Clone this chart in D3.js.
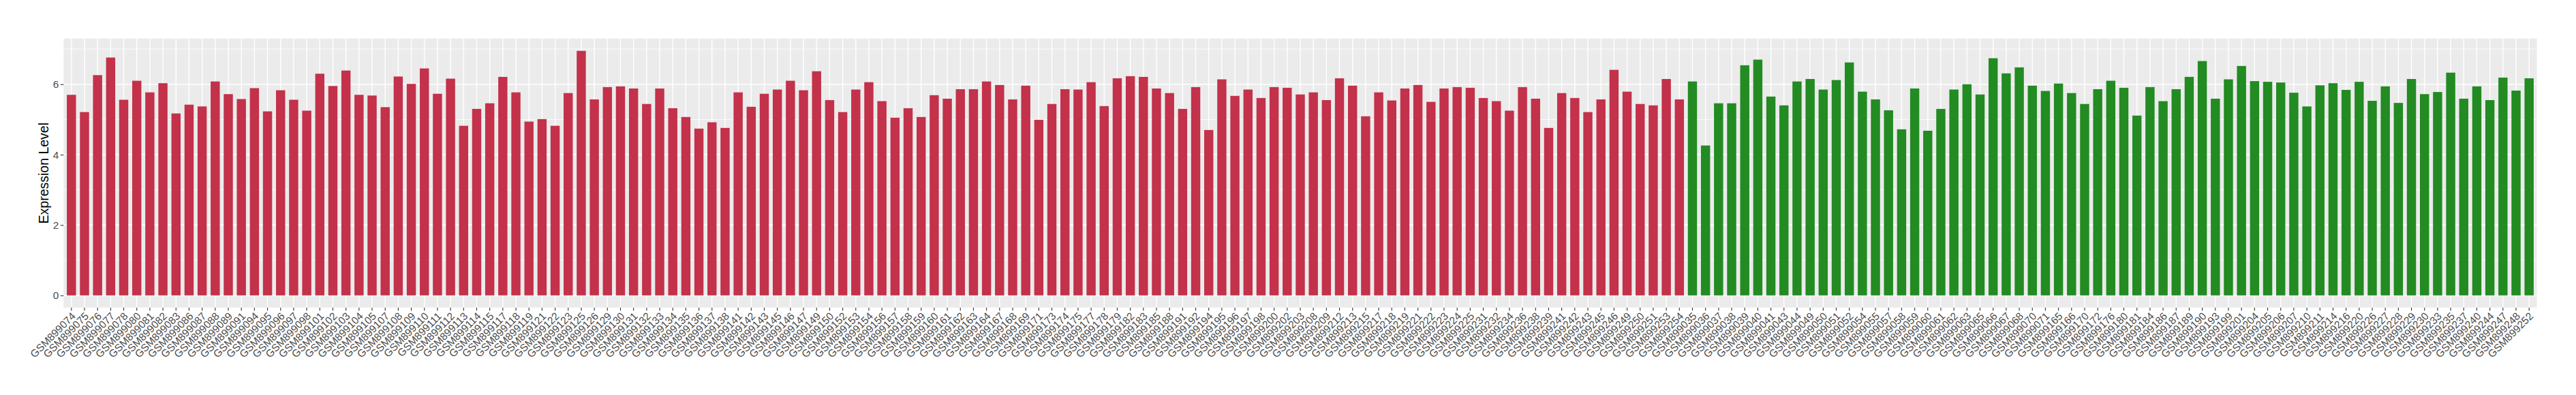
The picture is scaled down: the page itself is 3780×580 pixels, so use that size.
<!DOCTYPE html>
<html>
<head>
<meta charset="utf-8">
<script src="https://cdn.jsdelivr.net/npm/d3@7"></script>
<style>
  body { margin: 0; background: #fff; }
  svg { display: block; font-family: "Liberation Sans", Arial, sans-serif; }
</style>
</head>
<body>
<div class="bar-chart"></div>
<script>
// Data

const redSamples = [
  '074', '075', '076', '077', '078', '080', '081', '082', '083', '086', '087', '088', '089', '091', '094', '095',
  '096', '097', '098', '101', '102', '103', '104', '105', '107', '108', '109', '110', '111', '112',
  '113', '114', '115', '117', '118', '119', '121', '122', '123', '125', '126', '129', '130', '131', '132', '133', '134', '135', '136', '137',
  '138', '141', '142', '143', '145', '146', '147', '149', '150', '152', '153', '154', '156', '157', '158', '159', '160', '161', '162',
  '163', '164', '167', '168', '169', '171', '173', '174', '175', '177', '178', '179', '182', '183', '185', '188', '191', '192', '194', '195',
  '196', '197', '198', '200', '202', '203', '208', '209', '212', '213', '215', '217', '218', '219', '221', '222', '223', '224', '225', '231',
  '232', '234', '236', '238', '239', '241', '242', '243', '245', '246', '249', '250', '251', '253', '254'
].map((s) => 'GSM899' + s)

const redValues = [
  5.70, 5.21, 6.26, 6.76, 5.56, 6.10, 5.77, 6.03, 5.17, 5.42, 5.37, 6.08, 5.72, 5.58, 5.89, 5.23,
  5.83, 5.56, 5.25, 6.30, 5.95, 6.39, 5.70, 5.68, 5.35, 6.22, 6.01, 6.45, 5.73, 6.16,
  4.82, 5.30, 5.46, 6.21, 5.77, 4.94, 5.01, 4.82, 5.75, 6.95, 5.57, 5.92, 5.94, 5.88, 5.44, 5.88, 5.32, 5.07, 4.74, 4.92,
  4.76, 5.77, 5.36, 5.73, 5.85, 6.10, 5.83, 6.37, 5.55, 5.21, 5.85, 6.06, 5.52, 5.05, 5.32, 5.07, 5.69, 5.59, 5.86,
  5.86, 6.08, 5.98, 5.57, 5.96, 4.99, 5.44, 5.86, 5.85, 6.06, 5.38, 6.17, 6.23, 6.21, 5.88, 5.75, 5.30, 5.92, 4.70, 6.14,
  5.67, 5.85, 5.61, 5.92, 5.90, 5.71, 5.77, 5.55, 6.17, 5.96, 5.09, 5.77, 5.54, 5.88, 5.98, 5.50, 5.88, 5.92, 5.90, 5.61,
  5.52, 5.25, 5.92, 5.59, 4.76, 5.75, 5.61, 5.21, 5.57, 6.41, 5.79, 5.44, 5.40, 6.15, 5.57
]

const greenSamples = [
  '035', '036', '037', '038', '039', '040', '041', '043', '044', '049', '050', '051', '052', '054', '055', '057',
  '058', '059', '060', '061', '062', '063', '065', '066', '067', '068', '070', '071',
  '165', '166', '170', '172', '176', '180', '181', '184', '186', '187', '189', '190', '193', '199', '201', '204',
  '205', '206', '207', '210', '211', '214', '216', '220', '226', '227', '228', '229', '230', '233', '235', '237',
  '240', '244', '247', '248', '252'
].map((s) => 'GSM899' + s)

const greenValues = [
  6.08, 4.26, 5.46, 5.46, 6.54,
  6.70, 5.65, 5.40, 6.08, 6.15, 5.85, 6.12, 6.62, 5.79, 5.57, 5.26, 4.72, 5.88, 4.68, 5.30, 5.85, 6.00, 5.71, 6.74,
  6.31, 6.48, 5.96, 5.81, 6.02, 5.75, 5.44, 5.86, 6.10, 5.90, 5.11, 5.92, 5.52, 5.86, 6.21, 6.66, 5.59, 6.14, 6.52,
  6.09, 6.07, 6.05, 5.76, 5.37, 5.97, 6.03, 5.84, 6.07, 5.53, 5.94, 5.47, 6.15, 5.72, 5.78, 6.33, 5.59, 5.94, 5.55, 6.19, 5.82, 6.17
]

const yTicks = [0, 2, 4, 6]
const yMinorTicks = [1, 3, 5, 7]
const yTitle = 'Expression Level'

const redColor = '#C3314A'
const greenColor = '#228B22'

// Bar chart

const drawBarChart = () => {
  const data = [
    ...redSamples.map((name, i) => ({name, value: redValues[i], color: redColor})),
    ...greenSamples.map((name, i) => ({name, value: greenValues[i], color: greenColor}))
  ]

  const totalWidth = 3780
  const totalHeight = 580
  const panel = {left: 93.3, right: 3722.7, top: 56.7, bottom: 451.7}

  // ggplot style expansion: 5% of the data range on the y axis
  const maxValue = d3.max(data, (d) => d.value)
  const pad = maxValue * 0.05

  const x = d3.scaleBand()
    .domain(data.map((d) => d.name))
    .range([panel.left, panel.right])
    .paddingInner(0.3)
    .paddingOuter(0.25)

  const y = d3.scaleLinear()
    .domain([-pad, maxValue + pad])
    .range([panel.bottom, panel.top])

  const svg = d3.select('.bar-chart')
    .append('svg')
      .attr('width', totalWidth)
      .attr('height', totalHeight)

  svg.append('rect')
    .attr('width', totalWidth)
    .attr('height', totalHeight)
    .attr('fill', '#fff')

  svg.append('rect')
    .attr('x', panel.left)
    .attr('y', panel.top)
    .attr('width', panel.right - panel.left)
    .attr('height', panel.bottom - panel.top)
    .attr('fill', '#EBEBEB')

  const grid = svg.append('g')

  grid.selectAll('.minor')
      .data(yMinorTicks)
    .enter().append('line')
      .attr('x1', panel.left)
      .attr('x2', panel.right)
      .attr('y1', (d) => y(d))
      .attr('y2', (d) => y(d))
      .style('stroke', '#fff')
      .style('stroke-width', 0.8)

  grid.selectAll('.major')
      .data(yTicks)
    .enter().append('line')
      .attr('x1', panel.left)
      .attr('x2', panel.right)
      .attr('y1', (d) => y(d))
      .attr('y2', (d) => y(d))
      .style('stroke', '#fff')
      .style('stroke-width', 1.6)

  grid.selectAll('.vmajor')
      .data(data)
    .enter().append('line')
      .attr('x1', (d) => x(d.name) + x.bandwidth() / 2)
      .attr('x2', (d) => x(d.name) + x.bandwidth() / 2)
      .attr('y1', panel.top)
      .attr('y2', panel.bottom)
      .style('stroke', '#fff')
      .style('stroke-width', 1.4)

  svg.append('g').selectAll('rect')
      .data(data)
    .enter().append('rect')
      .attr('x', (d) => x(d.name))
      .attr('width', x.bandwidth())
      .attr('y', (d) => y(d.value))
      .attr('height', (d) => y(0) - y(d.value))
      .style('fill', (d) => d.color)

  const xAxis = d3.axisBottom(x)
    .tickSizeOuter(0)
    .tickSizeInner(4.5)
    .tickPadding(0)

  const xg = svg.append('g')
      .attr('transform', `translate(0,${panel.bottom})`)
      .call(xAxis)

  xg.select('.domain').remove()
  xg.selectAll('.tick line')
    .style('stroke', '#333')
    .style('stroke-width', 1.1)
  xg.selectAll('text')
      .attr('x', 0)
      .attr('y', 0)
      .attr('dy', 0)
      .style('text-anchor', 'end')
      .style('font-size', '15.4px')
      .style('fill', '#4D4D4D')
      .attr('transform', 'translate(7,13.5) rotate(-45)')

  const yAxis = d3.axisLeft(y)
    .tickValues(yTicks)
    .tickFormat(d3.format('d'))
    .tickSizeOuter(0)
    .tickSizeInner(4.5)
    .tickPadding(2.5)

  const yg = svg.append('g')
      .attr('transform', `translate(${panel.left},0)`)
      .call(yAxis)

  yg.select('.domain').remove()
  yg.selectAll('.tick line')
    .style('stroke', '#333')
    .style('stroke-width', 1.1)
  yg.selectAll('text')
    .style('font-size', '15.4px')
    .style('fill', '#4D4D4D')

  svg.append('text')
    .attr('transform', `translate(71,${(panel.top + panel.bottom) / 2}) rotate(-90)`)
    .style('text-anchor', 'middle')
    .style('font-size', '19.5px')
    .style('fill', '#000')
    .text(yTitle)
}

drawBarChart()
</script>
</body>
</html>
